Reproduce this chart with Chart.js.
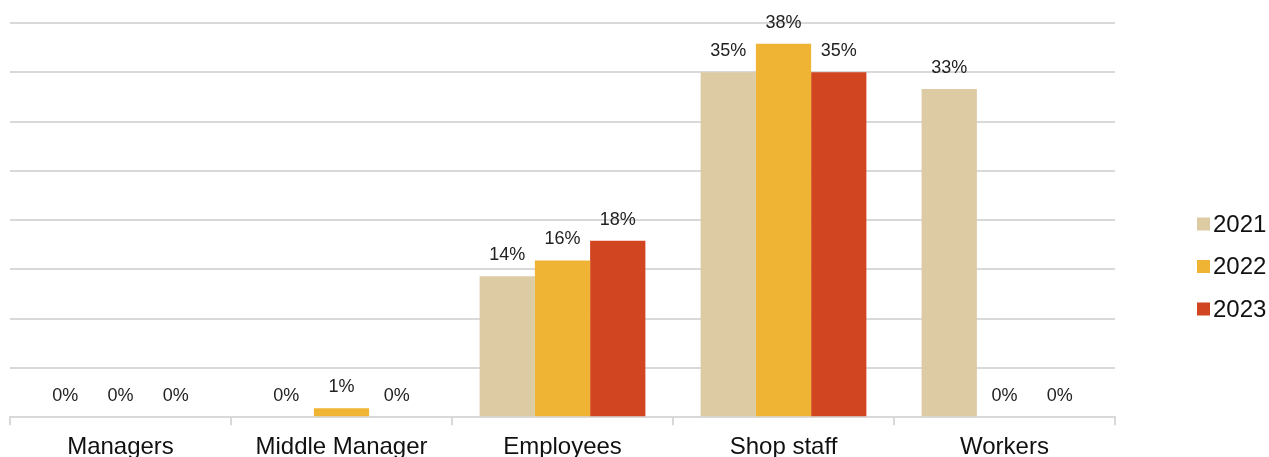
<!DOCTYPE html>
<html>
<head>
<meta charset="utf-8">
<script src="https://cdn.jsdelivr.net/npm/chart.js@4"></script>
<style>
  html, body { margin: 0; padding: 0; background: #fff; overflow: hidden; }
  #wrap { width: 1269px; height: 470px; position: relative; }
</style>
</head>
<body>
<div id="wrap"><canvas id="chart"></canvas></div>
<script>
const categories = ['Managers', 'Middle Manager', 'Employees', 'Shop staff', 'Workers'];
const years = ['2021', '2022', '2023'];
const values2021 = [0, 0, 14.3, 35, 33.3];
const values2022 = [0, 0.9, 15.9, 37.9, 0];
const values2023 = [0, 0, 17.9, 35, 0];
const labels2021 = ['0%', '0%', '14%', '35%', '33%'];
const labels2022 = ['0%', '1%', '16%', '38%', '0%'];
const labels2023 = ['0%', '0%', '18%', '35%', '0%'];
const colors = ['#DDCBA4', '#F0B434', '#D14520'];
const FONT = '"Liberation Sans", Arial, sans-serif';

const valueLabels = {
    id: 'valueLabels',
    afterDatasetsDraw(chart) {
        const ctx = chart.ctx;
        ctx.save();
        ctx.font = '18px ' + FONT;
        ctx.fillStyle = '#222';
        ctx.textAlign = 'center';
        ctx.textBaseline = 'middle';
        chart.data.datasets.forEach(function (ds, i) {
            chart.getDatasetMeta(i).data.forEach(function (bar, j) {
                ctx.fillText(ds.valueLabels[j], bar.x, bar.y - 21);
            });
        });
        ctx.restore();
    }
};

// legend drawn by hand so the small box/text gap matches the original
const sideLegend = {
    id: 'sideLegend',
    afterDraw(chart) {
        const ctx = chart.ctx;
        const x = chart.chartArea.right + 82;
        let y = 224;
        ctx.save();
        ctx.font = '24px ' + FONT;
        ctx.textBaseline = 'middle';
        ctx.textAlign = 'left';
        chart.data.datasets.forEach(function (ds) {
            ctx.fillStyle = ds.backgroundColor;
            ctx.fillRect(x, y - 6.5, 13, 13);
            ctx.fillStyle = '#111';
            ctx.fillText(ds.label, x + 16, y + 1);
            y += 42.5;
        });
        ctx.restore();
    }
};

const ctx = document.getElementById('chart').getContext('2d');
new Chart(ctx, {
    type: 'bar',
    data: {
        labels: categories,
        datasets: [
            { label: years[0], data: values2021, valueLabels: labels2021, backgroundColor: colors[0] },
            { label: years[1], data: values2022, valueLabels: labels2022, backgroundColor: colors[1] },
            { label: years[2], data: values2023, valueLabels: labels2023, backgroundColor: colors[2] }
        ]
    },
    options: {
        responsive: true,
        maintainAspectRatio: false,
        animation: false,
        layout: { padding: { left: 10, top: 23, right: 154, bottom: 0 } },
        datasets: { bar: { categoryPercentage: 0.75, barPercentage: 1.0 } },
        plugins: {
            tooltip: { enabled: false },
            legend: { display: false }
        },
        scales: {
            x: {
                grid: { offset: true, drawOnChartArea: false, color: '#d9d9d9', lineWidth: 2, tickLength: 8 },
                border: { color: '#d9d9d9', width: 2 },
                ticks: { color: '#111', padding: 8, font: { size: 24, family: FONT } }
            },
            y: {
                min: 0,
                max: 40,
                ticks: { stepSize: 5, display: false },
                grid: { color: '#d9d9d9', lineWidth: 2, drawTicks: false },
                border: { display: false }
            }
        }
    },
    plugins: [valueLabels, sideLegend]
});
</script>
</body>
</html>
